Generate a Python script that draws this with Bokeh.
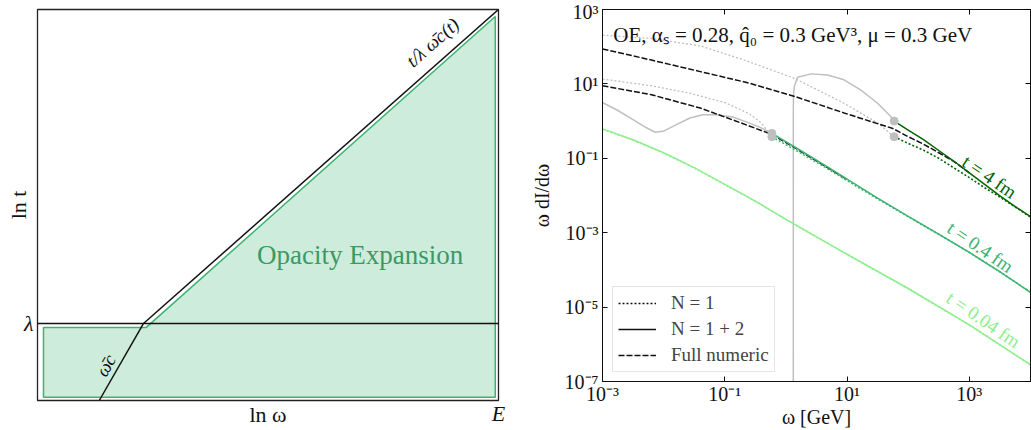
from bokeh.plotting import figure
from bokeh.models import Label, Legend, LegendItem, LogAxis, FixedTicker, Range1d
from bokeh.layouts import row
from bokeh.embed import file_html
from bokeh.resources import INLINE

SERIF = "Liberation Serif"
BLACK = "#111111"
GREY = "#bfbfbf"
LIGHT = "#90ee90"
MEDIUM = "#3cb371"
DARK = "#006400"
DOT = "2 2"
DASH = "6 2"
NAN = float("nan")

# ---------------- left panel: schematic (unit coordinates) ----------------
lambda_level = 0.197
kink_x = 0.230
diag_x = [kink_x, 1.0]
diag_y = [lambda_level, 1.0]
wc_x = [0.134, kink_x]
wc_y = [0.0, lambda_level]
region_x = [0.013, 0.993, 0.993, 0.236, 0.013]
region_y = [0.008, 0.008, 0.982, 0.187, 0.187]

# ---------------- right panel: omega dI/domega vs omega ----------------
# t = 0.04 fm
w_004 = [0.001, 0.00316, 0.01, 0.0316, 0.1, 0.316, 1.0, 2.4, 10, 100, 1000, 10000]
n12_004 = [0.617, 0.316, 0.141, 0.0562, 0.020, 0.00708, 0.00229, 0.0010, 2.63e-4, 3.16e-5, 3.31e-6, 2.82e-7]
n1_004 = [0.600, 0.309, 0.138, 0.0551, 0.0197, 0.00700, 0.00227, 0.00099, 2.61e-4, 3.14e-5, 3.30e-6, 2.81e-7]

# t = 0.4 fm
w_04 = [0.589, 1.58, 5.01, 10, 31.6, 100, 316, 1000, 3162, 10000]
n12_04 = [0.468, 0.178, 0.0562, 0.0275, 0.00851, 0.00275, 9.12e-4, 2.95e-4, 8.9e-5, 2.5e-5]
n1_04 = [0.380, 0.151, 0.0501, 0.0251, 0.00813, 0.00269, 9.0e-4, 2.94e-4, 8.9e-5, 2.5e-5]

# t = 4 fm
w_4 = [58.9, 100, 178, 316, 562, 1000, 1778, 3162, 5623, 10000]
n12_4 = [1.0, 0.575, 0.316, 0.162, 0.0832, 0.0407, 0.0200, 0.00977, 0.00501, 0.00269]
n1_4 = [0.380, 0.251, 0.166, 0.100, 0.0550, 0.0302, 0.0162, 0.00912, 0.00490, 0.00263]

# full numeric
w_num_4 = [0.001, 0.0063, 0.0398, 0.251, 1.41, 8.91, 56.2, 100, 178, 316, 562, 1000]
num_4 = [87.1, 43.7, 21.4, 10.5, 4.57, 1.66, 0.631, 0.380, 0.240, 0.141, 0.0813, 0.0407]
w_num_04 = [0.001, 0.0063, 0.0398, 0.251, 0.589, 1.58, 5.01, 10]
num_04 = [8.91, 5.13, 2.24, 0.741, 0.437, 0.170, 0.0537, 0.0269]

# low-omega continuation of the expansion (outside its range of validity)
w_low_n1_4 = [0.001, 0.0063, 0.0398, 0.209, 1.38, 8.91, 31.6, 58.9]
low_n1_4 = [204, 166, 105, 43.7, 14.1, 3.02, 0.891, 0.380]
w_low_n12_4 = [1.32, 1.321, 1.33, 1.37, 1.55, 2.57, 4.79, 8.91, 16.6, 31.6, 51.3, 58.9]
low_n12_4 = [1e-9, 2.0, 5.0, 8.5, 15.1, 18.6, 17.4, 12.9, 6.92, 3.02, 1.35, 1.0]
w_low_n1_04 = [0.001, 0.0063, 0.0251, 0.1, 0.251, 0.398, 0.589]
low_n1_04 = [13.5, 8.91, 5.75, 3.16, 1.58, 0.891, 0.380]
w_low_n12_04 = [0.001, 0.0017, 0.00316, 0.00525, 0.00724, 0.00977, 0.0162, 0.0269,
                0.0437, 0.0724, 0.135, 0.224, 0.38, 0.589]
low_n12_04 = [3.16, 2.02, 1.10, 0.661, 0.501, 0.531, 0.802, 1.21, 1.48, 1.48, 1.29,
              0.955, 0.676, 0.468]

# matching points
match_w = [0.589, 0.589, 58.9, 58.9]
match_y = [0.468, 0.380, 1.0, 0.380]

# ======================= left figure =======================
p1 = figure(width=520, height=430, x_range=Range1d(0, 1), y_range=Range1d(0, 1),
            output_backend="svg", toolbar_location=None,
            min_border_left=37, min_border_right=22, min_border_top=9, min_border_bottom=30)
p1.frame_align = False
p1.xgrid.grid_line_color = None
p1.ygrid.grid_line_color = None
p1.outline_line_color = "#222222"
p1.outline_line_width = 1.3
p1.background_fill_color = "white"
p1.border_fill_color = "white"

for ax in (p1.xaxis[0], p1.yaxis[0]):
    ax.axis_line_color = None
    ax.major_tick_in = 0
    ax.major_tick_out = 0
    ax.minor_tick_in = 0
    ax.minor_tick_out = 0
    ax.major_label_text_font = SERIF
    ax.major_label_text_font_size = "22px"
    ax.major_label_text_font_style = "italic"
    ax.major_label_text_color = BLACK
    ax.major_label_standoff = 4
    ax.axis_label_text_font = SERIF
    ax.axis_label_text_font_size = "22px"
    ax.axis_label_text_font_style = "normal"
    ax.axis_label_text_color = BLACK

p1.xaxis.ticker = FixedTicker(ticks=[1.0])
p1.xaxis.major_label_overrides = {1: "E"}
p1.xaxis.major_label_standoff = 0
p1.xaxis.axis_label = "ln ω"
p1.xaxis.axis_label_standoff = -27
p1.yaxis.ticker = FixedTicker(ticks=[lambda_level])
p1.yaxis.major_label_overrides = {lambda_level: "λ"}
p1.yaxis.major_label_orientation = "horizontal"
p1.yaxis.axis_label = "ln t"
p1.yaxis.axis_label_standoff = -10

p1.patch(region_x, region_y, fill_color=MEDIUM, fill_alpha=0.25,
         line_color=MEDIUM, line_width=1.5)
p1.line([0, 1], [lambda_level, lambda_level], line_color=BLACK, line_width=1.5)
p1.line(diag_x, diag_y, line_color=BLACK, line_width=1.5)
p1.line(wc_x, wc_y, line_color=BLACK, line_width=1.5)

def lab(p, x, y, text, size, color=BLACK, angle=0.0, align="center", style="normal",
        baseline="middle"):
    p.add_layout(Label(x=x, y=y, text=text, text_font=SERIF, text_font_size=size,
                       text_color=color, angle=angle, text_align=align,
                       text_baseline=baseline, text_font_style=style))

lab(p1, 0.70, 0.371, "Opacity Expansion", "27px", color="#3a9a64")
lab(p1, 0.148, 0.090, "ω̄c", "19px", angle=1.047, style="italic")
lab(p1, 0.857, 0.916, "t/λ ω̄c(t)", "19px", angle=0.725, style="italic")

# ======================= right figure =======================
p2 = figure(width=511, height=430, x_axis_type="log", y_axis_type="log",
            x_range=Range1d(1e-3, 1e4), y_range=Range1d(1e-7, 1e3),
            output_backend="svg", toolbar_location=None,
            min_border_left=82, min_border_right=1, min_border_top=9, min_border_bottom=47)
p2.frame_align = False
p2.xgrid.grid_line_color = None
p2.ygrid.grid_line_color = None
p2.outline_line_color = BLACK
p2.background_fill_color = "white"
p2.border_fill_color = "white"

xt = [1e-3, 1e-1, 1e1, 1e3]
yt = [1e-7, 1e-5, 1e-3, 1e-1, 1e1, 1e3]
xlabels = {1e-3: "10⁻³", 1e-1: "10⁻¹", 1e1: "10¹", 1e3: "10³"}
ylabels = {1e-7: "10⁻⁷", 1e-5: "10⁻⁵", 1e-3: "10⁻³", 1e-1: "10⁻¹", 1e1: "10¹", 1e3: "10³"}

for ax, ticks, names in ((p2.xaxis[0], xt, xlabels), (p2.yaxis[0], yt, ylabels)):
    ax.ticker = FixedTicker(ticks=ticks)
    ax.major_label_overrides = names
    ax.major_tick_in = 5
    ax.major_tick_out = 0
    ax.minor_tick_in = 0
    ax.minor_tick_out = 0
    ax.axis_line_color = BLACK
    ax.major_tick_line_color = BLACK
    ax.major_label_text_font = SERIF
    ax.major_label_text_font_size = "20px"
    ax.major_label_text_color = BLACK
    ax.axis_label_text_font = SERIF
    ax.axis_label_text_font_size = "20px"
    ax.axis_label_text_font_style = "normal"
    ax.axis_label_text_color = BLACK

p2.xaxis.axis_label = "ω [GeV]"
p2.xaxis.major_label_standoff = 1
p2.xaxis.axis_label_standoff = -2
p2.yaxis.axis_label = "ω dI/dω"
p2.yaxis.major_label_standoff = 4
p2.yaxis.axis_label_standoff = 9

for loc, ticks in (("above", xt), ("right", yt)):
    extra = LogAxis(ticker=FixedTicker(ticks=ticks), major_label_text_font_size="1px",
                    major_label_text_alpha=0, major_label_standoff=0,
                    major_tick_in=5, major_tick_out=0,
                    minor_tick_in=0, minor_tick_out=0, axis_line_color=BLACK)
    p2.add_layout(extra, loc)

# continuation curves in grey
p2.line(w_low_n1_4, low_n1_4, line_color=GREY, line_width=1.3, line_dash=DOT)
p2.line(w_low_n1_04, low_n1_04, line_color=GREY, line_width=1.3, line_dash=DOT)
p2.line(w_low_n12_4, low_n12_4, line_color=GREY, line_width=1.5)
p2.line(w_low_n12_04, low_n12_04, line_color=GREY, line_width=1.5)

# full numeric
r_num = p2.line(w_num_4, num_4, line_color=BLACK, line_width=1.5, line_dash=DASH)
p2.line(w_num_04, num_04, line_color=BLACK, line_width=1.5, line_dash=DASH)

# expansion curves
for w, n1, n12, col in ((w_004, n1_004, n12_004, LIGHT), (w_04, n1_04, n12_04, MEDIUM),
                        (w_4, n1_4, n12_4, DARK)):
    p2.line(w, n1, line_color=col, line_width=1.6, line_dash=DOT)
    p2.line(w, n12, line_color=col, line_width=1.5)

p2.scatter(match_w, match_y, size=8, color=GREY)

lab(p2, 1.5e-3, 205, "OE, αₛ = 0.28, q̂₀ = 0.3 GeV³, μ = 0.3 GeV", "21px", align="left")
lab(p2, 2140, 0.032, "t = 4 fm", "19px", color=DARK, angle=-0.60)
lab(p2, 1510, 4.1e-4, "t = 0.4 fm", "19px", color=MEDIUM, angle=-0.60)
lab(p2, 1700, 4.6e-6, "t = 0.04 fm", "19px", color=LIGHT, angle=-0.60)

# legend (black key lines for the line styles)
r_n1 = p2.line([NAN], [NAN], line_color=BLACK, line_width=1.5, line_dash=DOT)
r_n12 = p2.line([NAN], [NAN], line_color=BLACK, line_width=1.5)
legend = Legend(items=[LegendItem(label="N = 1", renderers=[r_n1]),
                       LegendItem(label="N = 1 + 2", renderers=[r_n12]),
                       LegendItem(label="Full numeric", renderers=[r_num])],
                location=(10, 9), margin=0, padding=5, spacing=4,
                glyph_width=38, glyph_height=20, label_height=20, label_standoff=15,
                label_text_font=SERIF, label_text_font_size="19px",
                border_line_color="#cccccc", background_fill_alpha=0.9)
p2.add_layout(legend)

page = row(p1, p2)
open("out.html", "w").write(file_html(page, INLINE))
